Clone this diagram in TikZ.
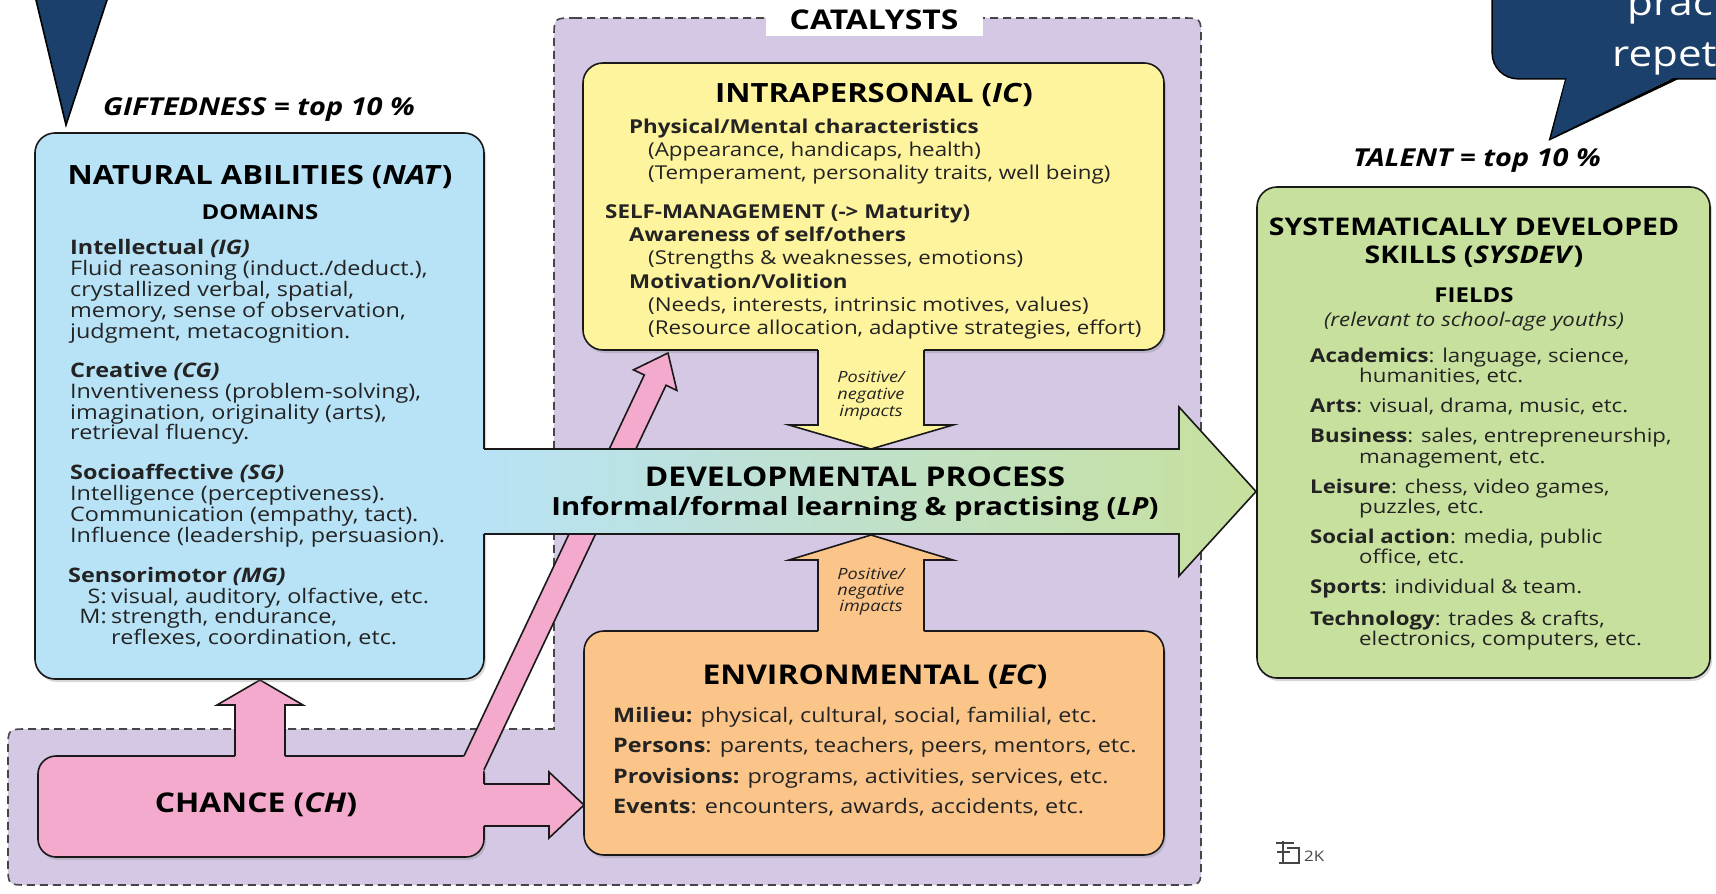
\documentclass[tikz,border=0pt]{standalone}
\usepackage{fontspec}
\setmainfont{Open Sans}[FakeStretch=1.17]
\usetikzlibrary{shadows}
\definecolor{natblue}{RGB}{184,226,245}
\definecolor{icyellow}{RGB}{254,244,157}
\definecolor{catpurple}{RGB}{212,200,228}
\definecolor{ecorange}{RGB}{251,197,138}
\definecolor{sysgreen}{RGB}{199,224,157}
\definecolor{chancepink}{RGB}{244,170,205}
\definecolor{calloutblue}{RGB}{27,64,107}
\definecolor{lineblack}{RGB}{25,25,25}
\definecolor{dashgray}{RGB}{70,70,70}
\definecolor{txtgray}{RGB}{35,35,35}
\begin{document}
\begin{tikzpicture}[x=1pt,y=-1pt,
  box/.style={draw=lineblack, line width=1.6pt, rounded corners=20pt, inner sep=0pt,
     drop shadow={shadow xshift=2pt, shadow yshift=-3pt, opacity=0.3}},
  arrowline/.style={draw=lineblack, line width=1.6pt, line join=miter},
  bod/.style={font=\fontsize{20}{24}\selectfont, text=txtgray, inner sep=0pt},
  ibod/.style={font=\fontsize{19.1}{23}\selectfont, text=txtgray, inner sep=0pt},
  sbod/.style={font=\fontsize{19}{23}\selectfont, text=txtgray, inner sep=0pt},
  ttl/.style={font=\fontsize{26.5}{30}\selectfont\bfseries, text=black, inner sep=0pt},
  bttl/.style={font=\fontsize{27.2}{30}\selectfont\bfseries, text=black, inner sep=0pt},
  dttl/.style={font=\fontsize{25}{30}\selectfont\bfseries, text=black, inner sep=0pt},
  sttl/.style={font=\fontsize{24.3}{27}\selectfont\bfseries, text=black, inner sep=0pt},
  hdr/.style={font=\fontsize{20.5}{24}\selectfont\bfseries, text=black, inner sep=0pt},
  imp/.style={font=\fontsize{15.5}{18}\selectfont\itshape, text=txtgray, inner sep=0pt},
  tagtxt/.style={font=\fontsize{24.7}{27}\selectfont\bfseries\itshape, text=black, inner sep=0pt},
  bl/.style={anchor=base west},
  bc/.style={anchor=base}]
\useasboundingbox (0,0) rectangle (1716,894);
\clip (0,0) rectangle (1716,894);
\fill[white] (0,0) rectangle (1716,894);

% ---------- catalysts region ----------
\path[fill=catpurple, draw=dashgray, line width=1.6pt, dash pattern=on 8pt off 5pt]
  (574,18) -- (1181,18) .. controls (1201,18) .. (1201,38) -- (1201,865)
  .. controls (1201,885) .. (1181,885) -- (28,885) .. controls (8,885) .. (8,865)
  -- (8,749) .. controls (8,729) .. (28,729) -- (554,729) -- (554,38)
  .. controls (554,18) .. (574,18) -- cycle;
\node[fill=white, minimum width=217pt, minimum height=40pt, inner sep=0pt] (catbg) at (874.5,16) {};
\node[bttl, bc] (cat) at (874,29) {CATALYSTS};

% ---------- chance (pink) ----------
\node[box, fill=chancepink, rounded corners=18pt, minimum width=446pt, minimum height=101pt] (chance) at (261,806.5) {};
\fill[chancepink] (445.55,794.86) -- (644.31,374.98) -- (633.46,369.85) -- (668,353)
   -- (676.86,390.39) -- (666.01,385.26) -- (467.25,805.14) -- cycle;
\fill[chancepink] (482,784) -- (549,784) -- (549,772) -- (584,805) -- (549,838) -- (549,826) -- (482,826) -- cycle;
\fill[chancepink] (235,758) -- (235,705) -- (217,705) -- (260,680) -- (303,705) -- (285,705) -- (285,758) -- cycle;
\draw[arrowline] (463.95,756) -- (644.31,374.98) -- (633.46,369.85) -- (668,353)
   -- (676.86,390.39) -- (666.01,385.26) -- (484,769.76);
\draw[arrowline] (484,784) -- (549,784) -- (549,772) -- (584,805) -- (549,838) -- (549,826) -- (484,826);
\draw[arrowline] (235,756) -- (235,705) -- (217,705) -- (260,680) -- (303,705) -- (285,705) -- (285,756);
\node[bttl, bc] (chT) at (256,812) {CHANCE (\textit{CH})};

% ---------- natural abilities + developmental process ----------
\node[box, fill=natblue, minimum width=449pt, minimum height=546pt] (nat) at (259.5,406) {};
\fill[left color=natblue, right color=sysgreen] (482,449) -- (1179,449) -- (1179,407) -- (1256,491.5)
   -- (1179,576) -- (1179,534) -- (482,534) -- cycle;
\draw[arrowline] (484,449) -- (1179,449) -- (1179,407) -- (1256,491.5) -- (1179,576) -- (1179,534) -- (484,534);
\node[bttl, bc] (dev1) at (855,486) {DEVELOPMENTAL PROCESS};
\node[dttl, bc] (dev2) at (855,515) {Informal/formal learning \& practising (\textit{LP})};

\node[tagtxt, bc] (gift) at (259,115) {GIFTEDNESS = top 10 \%};
\node[ttl, bc] (natT) at (260,184) {NATURAL ABILITIES (\textit{NAT})};
\node[hdr, bc] (natD) at (260,219) {DOMAINS};
\node[bod, bl] (ig0) at (70,254) {\textbf{Intellectual \textit{(IG)}}};
\node[bod, bl] (ig1) at (70,275) {Fluid reasoning (induct./deduct.),};
\node[bod, bl] (ig2) at (70,296) {crystallized verbal, spatial,};
\node[bod, bl] (ig3) at (70,317) {memory, sense of observation,};
\node[bod, bl] (ig4) at (70,338) {judgment, metacognition.};
\node[bod, bl] (cg0) at (70,377) {\textbf{Creative \textit{(CG)}}};
\node[bod, bl] (cg1) at (70,398) {Inventiveness (problem-solving),};
\node[bod, bl] (cg2) at (70,419) {imagination, originality (arts),};
\node[bod, bl] (cg3) at (70,439) {retrieval fluency.};
\node[bod, bl] (sg0) at (70,479) {\textbf{Socioaffective \textit{(SG)}}};
\node[bod, bl] (sg1) at (70,500) {Intelligence (perceptiveness).};
\node[bod, bl] (sg2) at (70,521) {Communication (empathy, tact).};
\node[bod, bl] (sg3) at (70,542) {Influence (leadership, persuasion).};
\node[bod, bl] (mg0) at (68,582) {\textbf{Sensorimotor \textit{(MG)}}};
\node[bod, anchor=base east] (mgS) at (107,603) {S:};
\node[bod, bl] (mg1) at (111,603) {visual, auditory, olfactive, etc.};
\node[bod, anchor=base east] (mgM) at (107,623) {M:};
\node[bod, bl] (mg2) at (111,623) {strength, endurance,};
\node[bod, bl] (mg3) at (111,644) {reflexes, coordination, etc.};

% ---------- intrapersonal ----------
\node[box, fill=icyellow, minimum width=581pt, minimum height=287pt] (ic) at (873.5,206.5) {};
\fill[icyellow] (818,348) -- (818,425) -- (789,425) -- (871,449) -- (953,425) -- (924,425) -- (924,348) -- cycle;
\draw[arrowline] (818,350) -- (818,425) -- (789,425) -- (871,449) -- (953,425) -- (924,425) -- (924,350);
\node[ttl, bc] (icT) at (874,102) {INTRAPERSONAL (\textit{IC})};
\node[ibod, bl] (ic1) at (629,133) {\textbf{Physical/Mental characteristics}};
\node[ibod, bl] (ic2) at (648,156) {(Appearance, handicaps, health)};
\node[ibod, bl] (ic3) at (648,179) {(Temperament, personality traits, well being)};
\node[ibod, bl] (ic4) at (605,218) {\textbf{SELF-MANAGEMENT ({-}{>} Maturity)}};
\node[ibod, bl] (ic5) at (629,241) {\textbf{Awareness of self/others}};
\node[ibod, bl] (ic6) at (648,264) {(Strengths \& weaknesses, emotions)};
\node[ibod, bl] (ic7) at (629,288) {\textbf{Motivation/Volition}};
\node[ibod, bl] (ic8) at (648,311) {(Needs, interests, intrinsic motives, values)};
\node[ibod, bl] (ic9) at (648,334) {(Resource allocation, adaptive strategies, effort)};
\node[imp, bc] (imp1) at (871,382.5) {Positive/};
\node[imp, bc] (imp2) at (871,399.5) {negative};
\node[imp, bc] (imp3) at (871,416.5) {impacts};

% ---------- environmental ----------
\node[box, fill=ecorange, minimum width=580pt, minimum height=224pt] (ec) at (874,743) {};
\fill[ecorange] (818,633) -- (818,560) -- (789,560) -- (871,535) -- (953,560) -- (924,560) -- (924,633) -- cycle;
\draw[arrowline] (818,631) -- (818,560) -- (789,560) -- (871,535) -- (953,560) -- (924,560) -- (924,631);
\node[imp, bc] (imp4) at (871,579.5) {Positive/};
\node[imp, bc] (imp5) at (871,595.5) {negative};
\node[imp, bc] (imp6) at (871,611.5) {impacts};
\node[bttl, bc] (ecT) at (875,684) {ENVIRONMENTAL (\textit{EC})};
\node[bod, bl] (ec1) at (613,722) {\textbf{Milieu:} physical, cultural, social, familial, etc.};
\node[bod, bl] (ec2) at (613,752) {\textbf{Persons}: parents, teachers, peers, mentors, etc.};
\node[bod, bl] (ec3) at (613,783) {\textbf{Provisions:} programs, activities, services, etc.};
\node[bod, bl] (ec4) at (613,813) {\textbf{Events}: encounters, awards, accidents, etc.};

% ---------- systematically developed skills ----------
\node[box, fill=sysgreen, minimum width=453pt, minimum height=491pt] (sys) at (1483.5,432.5) {};
\node[tagtxt, bc] (talent) at (1477,166) {TALENT = top 10 \%};
\node[sttl, bc] (syT1) at (1474,235) {SYSTEMATICALLY DEVELOPED};
\node[sttl, bc] (syT2) at (1474,263) {SKILLS (\textit{SYSDEV})};
\node[hdr, bc] (syF) at (1474,302) {FIELDS};
\node[sbod, bc] (syR) at (1474,326) {\textit{(relevant to school-age youths)}};
\node[sbod, bl] (sy1) at (1310,362) {\textbf{Academics}: language, science,};
\node[sbod, bl] (sy2) at (1359,382) {humanities, etc.};
\node[sbod, bl] (sy3) at (1310,412) {\textbf{Arts}: visual, drama, music, etc.};
\node[sbod, bl] (sy4) at (1310,442) {\textbf{Business}: sales, entrepreneurship,};
\node[sbod, bl] (sy5) at (1359,463) {management, etc.};
\node[sbod, bl] (sy6) at (1310,493) {\textbf{Leisure}: chess, video games,};
\node[sbod, bl] (sy7) at (1359,513) {puzzles, etc.};
\node[sbod, bl] (sy8) at (1310,543) {\textbf{Social action}: media, public};
\node[sbod, bl] (sy9) at (1359,563) {office, etc.};
\node[sbod, bl] (sy10) at (1310,593) {\textbf{Sports}: individual \& team.};
\node[sbod, bl] (sy11) at (1310,625) {\textbf{Technology}: trades \& crafts,};
\node[sbod, bl] (sy12) at (1359,645) {electronics, computers, etc.};

% ---------- logo ----------
\draw[line width=1.4pt, dashgray] (1276,843) -- (1294,843) (1283,841) -- (1283,863) (1277,852) -- (1290,852)
   (1287,848) -- (1299,848) -- (1299,863) -- (1279,863);
\node[font=\fontsize{14.5}{16}\selectfont, text=dashgray, inner sep=0pt, anchor=west] (twok) at (1304,856) {2K};

% ---------- callouts ----------
\draw[fill=calloutblue, draw=black, line width=1.6pt, line join=miter] (33.6,-10) -- (66,125) -- (110.3,-10) -- cycle;
\node[draw=black, line width=3.2pt, rounded corners=25pt, minimum width=267pt, minimum height=118pt, inner sep=0pt] (cobox) at (1626.5,19) {};
\draw[black, line width=3.2pt, line join=miter] (1567,78) -- (1551,138) -- (1677,78);
\node[fill=calloutblue, rounded corners=25pt, minimum width=267pt, minimum height=118pt, inner sep=0pt] (cofill) at (1626.5,19) {};
\fill[calloutblue] (1567,76) -- (1551,138) -- (1677,76) -- cycle;
\node[font=\fontsize{36}{40}\selectfont, text=white, inner sep=0pt, bl] (co1) at (1627,15) {practice};
\node[font=\fontsize{36}{40}\selectfont, text=white, inner sep=0pt, bl] (co2) at (1612,66) {repetition};
\end{tikzpicture}
\end{document}
